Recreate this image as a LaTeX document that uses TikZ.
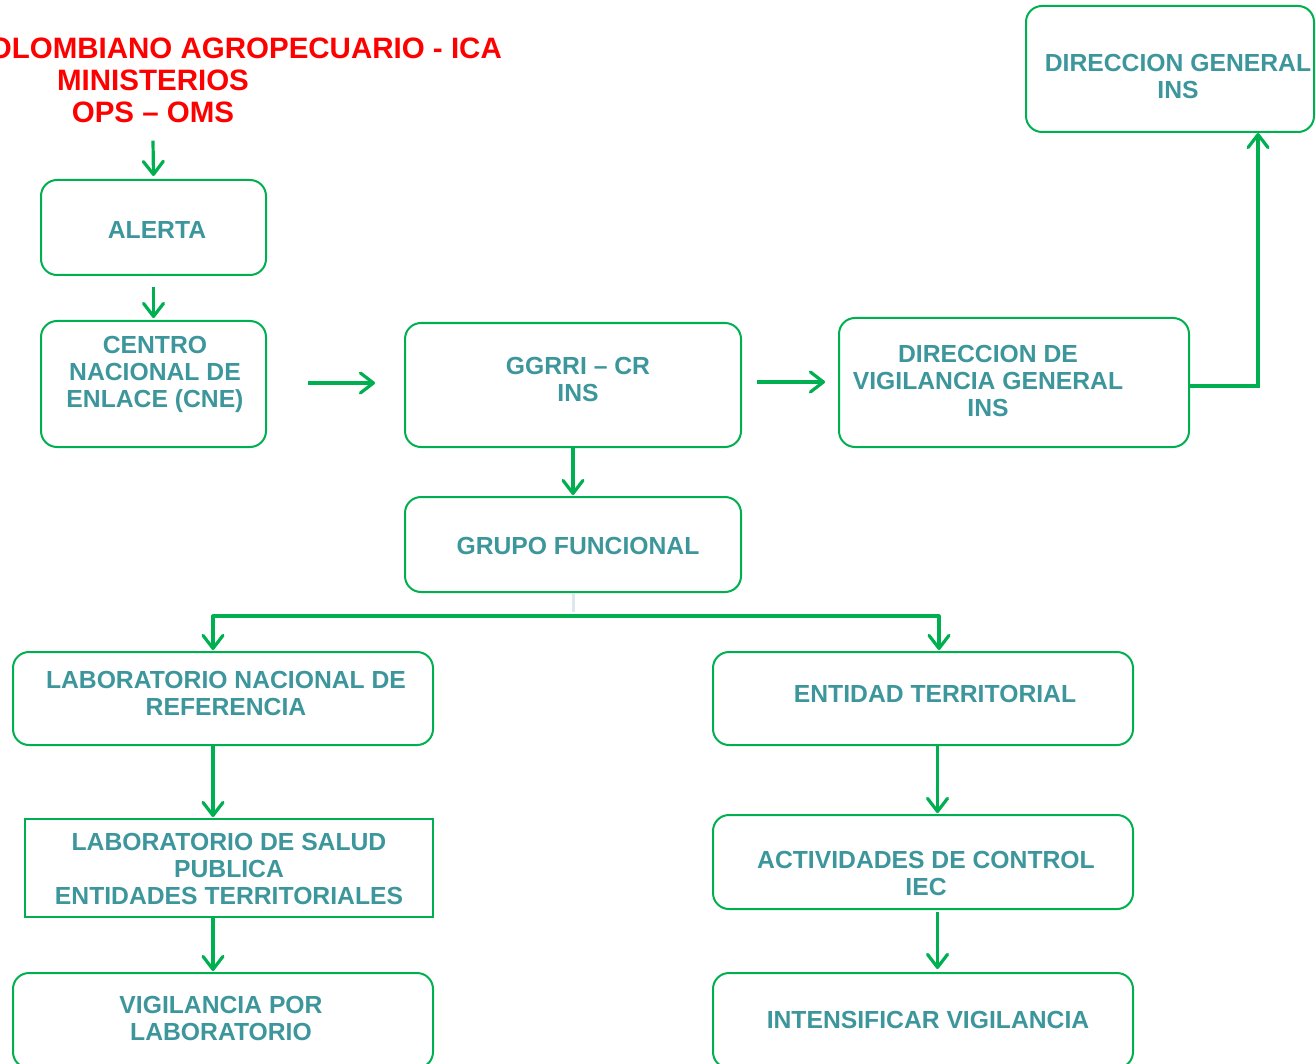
\documentclass[tikz,border=0pt]{standalone}
\usepackage{fontspec}
\setmainfont{Liberation Sans}
\usetikzlibrary{arrows.meta,calc}
\definecolor{grn}{RGB}{0,176,80}
\definecolor{tealtxt}{RGB}{60,150,155}
\definecolor{redtxt}{RGB}{255,0,0}
\definecolor{faint}{RGB}{220,232,238}
\begin{document}
\begin{tikzpicture}[x=1pt,y=-1pt,
  box/.style={draw=grn, line width=2pt, rounded corners=16pt, inner sep=0pt, shape=rectangle},
  sqbox/.style={draw=grn, line width=2pt, inner sep=0pt, shape=rectangle},
  txt/.style={text=tealtxt, font=\bfseries\fontsize{24.7}{27}\selectfont, align=center, inner sep=0pt},
  redt/.style={text=redtxt, font=\bfseries\fontsize{29.5}{32}\selectfont, align=center, inner sep=0pt},
  arr/.style={draw=grn, line width=3.2pt, -{Straight Barb[length=13pt,width=20pt,round]}},
  arrb/.style={draw=grn, line width=3.2pt, line join=round, {Straight Barb[length=13pt,width=20pt,round]}-{Straight Barb[length=13pt,width=20pt,round]}}
]
\useasboundingbox (0,0) rectangle (1316,1064);
\clip (0,0) rectangle (1316,1064);

% boxes
\node[box, minimum width=225pt, minimum height=95pt] (alerta) at (153.5,227.5) {};
\node[box, minimum width=225pt, minimum height=126pt] (cne) at (153.5,384) {};
\node[box, minimum width=336pt, minimum height=124pt] (ggrri) at (573,385) {};
\node[box, minimum width=350pt, minimum height=129pt] (dirvig) at (1014,382.5) {};
\node[box, minimum width=288pt, minimum height=126pt] (dirgen) at (1170,69) {};
\node[box, minimum width=336pt, minimum height=95pt] (grupo) at (573,544.5) {};
\node[box, minimum width=420pt, minimum height=93pt] (labnac) at (223,698.5) {};
\node[box, minimum width=420pt, minimum height=93pt] (entidad) at (923,698.5) {};
\node[sqbox, minimum width=408pt, minimum height=98pt] (labsalud) at (229,868) {};
\node[box, minimum width=420pt, minimum height=94pt] (act) at (923,862) {};
\node[box, minimum width=420pt, minimum height=95pt] (vig) at (223,1020.5) {};
\node[box, minimum width=420pt, minimum height=95pt] (intens) at (923,1020.5) {};

% texts
\node[redt] (src) at (153,80) {INSTITUTO COLOMBIANO AGROPECUARIO - ICA\\MINISTERIOS\\OPS – OMS};
\node[txt] (talerta) at (157,230) {ALERTA};
\node[txt] (tcne) at (155,374) {CENTRO\\NACIONAL DE\\ENLACE (CNE)};
\node[txt] (tggrri) at (578,379.5) {GGRRI – CR\\INS};
\node[txt] (tdirvig) at (988,381) {DIRECCION DE\\VIGILANCIA GENERAL\\INS};
\node[txt] (tdirgen) at (1178,76.5) {DIRECCION GENERAL\\INS};
\node[txt] (tgrupo) at (578,546) {GRUPO FUNCIONAL};
\node[txt] (tlabnac) at (226,693.5) {LABORATORIO NACIONAL DE\\REFERENCIA};
\node[txt] (tentidad) at (935,694) {ENTIDAD TERRITORIAL};
\node[txt] (tlabsalud) at (229,869) {LABORATORIO DE SALUD\\PUBLICA\\ENTIDADES TERRITORIALES};
\node[txt] (tact) at (926,873.5) {ACTIVIDADES DE CONTROL\\IEC};
\node[txt] (tvig) at (221,1018.5) {VIGILANCIA POR\\LABORATORIO};
\node[txt] (tintens) at (928,1020) {INTENSIFICAR VIGILANCIA};

% helper coordinates
\coordinate (cl) at (213,616);
\coordinate (cr) at (939,616);
\coordinate (cr2) at (937.5,0);
\coordinate (f1) at (308,383);
\coordinate (f2) at (375,383);
\coordinate (f3) at (757,382);
\coordinate (f4) at (825,382);

% connectors
\draw[arr] ([xshift=0pt,yshift=-18pt]src.south) -- ([yshift=3pt]alerta.north);
\draw[arr] ([yshift=-11pt]alerta.south) -- ([yshift=2pt]cne.north);
\draw[arr] (f1) -- (f2);
\draw[arr] (f3) -- (f4);
\draw[arr] ([yshift=-3.5pt]dirvig.east) -| ([xshift=88pt]dirgen.south);
\draw[arr] (ggrri.south) -- ([yshift=1pt]grupo.north);
\draw[faint, line width=3pt] (grupo.south) -- ([yshift=-19pt]grupo.south);
\draw[arrb] ([yshift=1pt]cl |- labnac.north) -- (cl) -- (cr) -- ([yshift=1pt]cr |- entidad.north);
\draw[arr] (cl |- labnac.south) -- ([yshift=1pt]cl |- labsalud.north);
\draw[arr] (cl |- labsalud.south) -- ([yshift=1pt]cl |- vig.north);
\draw[arr] (cr2 |- entidad.south) -- ([yshift=1pt]cr2 |- act.north);
\draw[arr] ([yshift=-2pt]cr2 |- act.south) -- ([yshift=3pt]cr2 |- intens.north);
\end{tikzpicture}
\end{document}
